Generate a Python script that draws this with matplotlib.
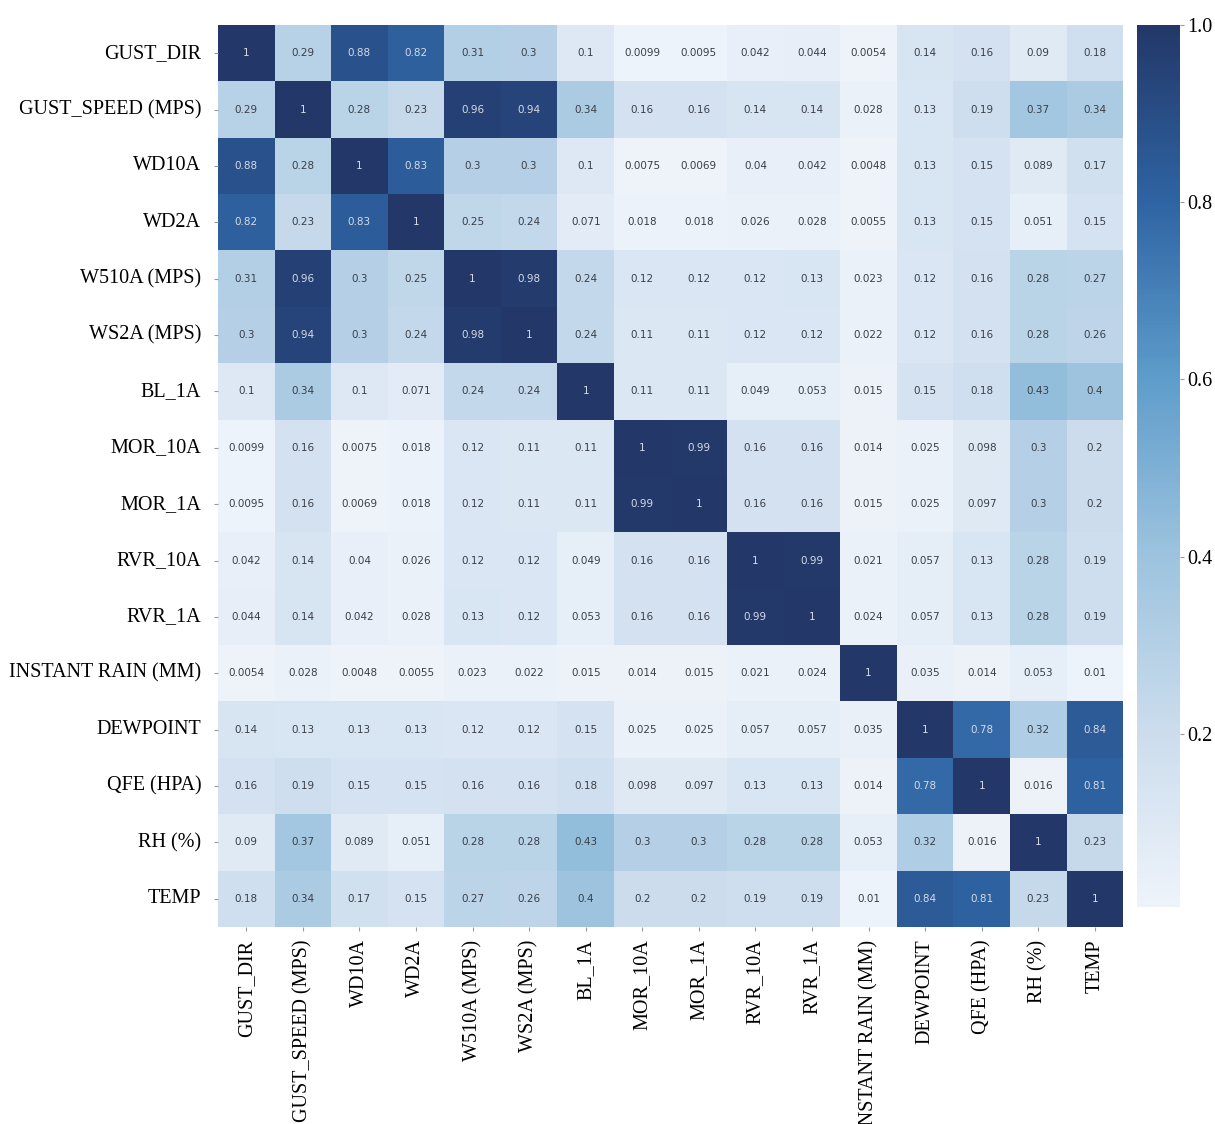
import numpy as np
import pandas as pd
import matplotlib
matplotlib.use("Agg")
import matplotlib.pyplot as plt
from matplotlib.colors import LinearSegmentedColormap
import seaborn as sns

LABELS = [
    "GUST_DIR", "GUST_SPEED (MPS)", "WD10A", "WD2A", "W510A (MPS)",
    "WS2A (MPS)", "BL_1A", "MOR_10A", "MOR_1A", "RVR_10A", "RVR_1A",
    "INSTANT RAIN (MM)", "DEWPOINT", "QFE (HPA)", "RH (%)", "TEMP",
]

gust_dir = [1, 0.29, 0.88, 0.82, 0.31, 0.3, 0.1, 0.0099, 0.0095, 0.042, 0.044, 0.0054, 0.14, 0.16, 0.09, 0.18]
gust_speed = [0.29, 1, 0.28, 0.23, 0.96, 0.94, 0.34, 0.16, 0.16, 0.14, 0.14, 0.028, 0.13, 0.19, 0.37, 0.34]
wd10a = [0.88, 0.28, 1, 0.83, 0.3, 0.3, 0.1, 0.0075, 0.0069, 0.04, 0.042, 0.0048, 0.13, 0.15, 0.089, 0.17]
wd2a = [0.82, 0.23, 0.83, 1, 0.25, 0.24, 0.071, 0.018, 0.018, 0.026, 0.028, 0.0055, 0.13, 0.15, 0.051, 0.15]
w510a = [0.31, 0.96, 0.3, 0.25, 1, 0.98, 0.24, 0.12, 0.12, 0.12, 0.13, 0.023, 0.12, 0.16, 0.28, 0.27]
ws2a = [0.3, 0.94, 0.3, 0.24, 0.98, 1, 0.24, 0.11, 0.11, 0.12, 0.12, 0.022, 0.12, 0.16, 0.28, 0.26]
bl_1a = [0.1, 0.34, 0.1, 0.071, 0.24, 0.24, 1, 0.11, 0.11, 0.049, 0.053, 0.015, 0.15, 0.18, 0.43, 0.4]
mor_10a = [0.0099, 0.16, 0.0075, 0.018, 0.12, 0.11, 0.11, 1, 0.99, 0.16, 0.16, 0.014, 0.025, 0.098, 0.3, 0.2]
mor_1a = [0.0095, 0.16, 0.0069, 0.018, 0.12, 0.11, 0.11, 0.99, 1, 0.16, 0.16, 0.015, 0.025, 0.097, 0.3, 0.2]
rvr_10a = [0.042, 0.14, 0.04, 0.026, 0.12, 0.12, 0.049, 0.16, 0.16, 1, 0.99, 0.021, 0.057, 0.13, 0.28, 0.19]
rvr_1a = [0.044, 0.14, 0.042, 0.028, 0.13, 0.12, 0.053, 0.16, 0.16, 0.99, 1, 0.024, 0.057, 0.13, 0.28, 0.19]
instant_rain = [0.0054, 0.028, 0.0048, 0.0055, 0.023, 0.022, 0.015, 0.014, 0.015, 0.021, 0.024, 1, 0.035, 0.014, 0.053, 0.01]
dewpoint = [0.14, 0.13, 0.13, 0.13, 0.12, 0.12, 0.15, 0.025, 0.025, 0.057, 0.057, 0.035, 1, 0.78, 0.32, 0.84]
qfe = [0.16, 0.19, 0.15, 0.15, 0.16, 0.16, 0.18, 0.098, 0.097, 0.13, 0.13, 0.014, 0.78, 1, 0.016, 0.81]
rh = [0.09, 0.37, 0.089, 0.051, 0.28, 0.28, 0.43, 0.3, 0.3, 0.28, 0.28, 0.053, 0.32, 0.016, 1, 0.23]
temp = [0.18, 0.34, 0.17, 0.15, 0.27, 0.26, 0.4, 0.2, 0.2, 0.19, 0.19, 0.01, 0.84, 0.81, 0.23, 1]

rows = [gust_dir, gust_speed, wd10a, wd2a, w510a, ws2a, bl_1a, mor_10a,
        mor_1a, rvr_10a, rvr_1a, instant_rain, dewpoint, qfe, rh, temp]
corr = pd.DataFrame(rows, index=LABELS, columns=LABELS)

# muted blues, navy at the top end
cmap = LinearSegmentedColormap.from_list("muted_blues", [
    (0.0, "#eef3fa"),
    (0.2, "#cbdced"),
    (0.4, "#9cc3de"),
    (0.6, "#5e9ccb"),
    (0.8, "#2e64a3"),
    (1.0, "#233768"),
])

fig = plt.figure(figsize=(12.15, 11.24), dpi=100)
ax = fig.add_axes([0.1794, 0.1753, 0.745, 0.8025])
cax = fig.add_axes([0.9358, 0.193, 0.0354, 0.785])

sns.heatmap(
    corr, ax=ax, cbar_ax=cax, cmap=cmap, annot=True, fmt=".2g",
    annot_kws={"fontsize": 7.5, "family": "DejaVu Sans"},
)

# soften the annotation colours a little
for t in ax.texts:
    r, g, b, _ = matplotlib.colors.to_rgba(t.get_color())
    t.set_color("#d5dbe6" if r > 0.5 else "#3a3f47")

ax.set_xticklabels(LABELS, rotation=90, fontsize=14.5, family="Liberation Serif")
ax.set_yticklabels(LABELS, rotation=0, fontsize=14.5, family="Liberation Serif")
ax.tick_params(axis="both", length=3, color="#999999", width=0.8)
ax.tick_params(axis="y", pad=9)
ax.tick_params(axis="x", pad=6)

cax.set_yticks([0.2, 0.4, 0.6, 0.8, 1.0])
cax.set_yticklabels(["0.2", "0.4", "0.6", "0.8", "1.0"], fontsize=14.5,
                    family="Liberation Serif")
cax.tick_params(length=3, color="#999999", width=0.8, pad=2)
for s in cax.spines.values():
    s.set_visible(False)

fig.savefig("out.png", dpi=100)
